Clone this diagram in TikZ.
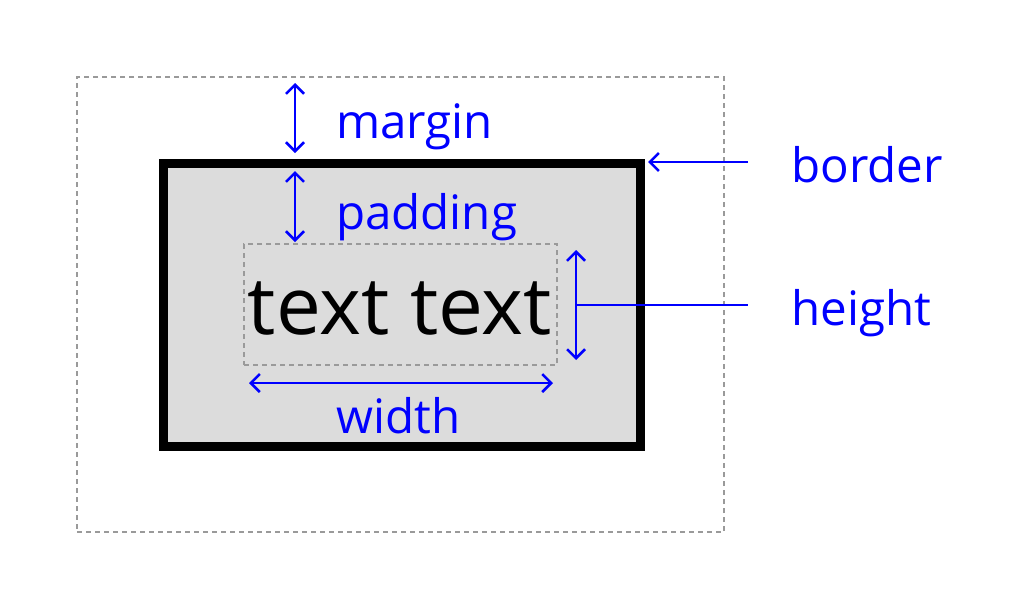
\documentclass[tikz,border=0pt]{standalone}
\usepackage{fontspec}
\setmainfont{Open Sans}
\usetikzlibrary{arrows.meta}
\definecolor{boxgray}{HTML}{DCDCDC}
\definecolor{dashgray}{HTML}{9A9A9A}
\definecolor{lblue}{HTML}{0000FF}
\tikzset{
  dashbox/.style={draw=dashgray, line width=2pt, dash pattern=on 5pt off 4pt, inner sep=0pt, outer sep=0pt, anchor=north west},
  borderbox/.style={draw=black, fill=boxgray, line width=9pt, inner sep=0pt, outer sep=0pt, anchor=north west},
  dim/.style={draw=lblue, line width=2.5pt, {Straight Barb[length=9pt,width=18pt,line width=2.5pt]}-{Straight Barb[length=9pt,width=18pt,line width=2.5pt]}},
  pointer/.style={draw=lblue, line width=2.5pt, -{Straight Barb[length=9pt,width=18pt,line width=2.5pt]}},
  lead/.style={draw=lblue, line width=2.5pt},
  lbl/.style={text=lblue, font=\fontsize{47.5}{50}\selectfont, anchor=base west, inner sep=0pt},
}
\begin{document}
\begin{tikzpicture}[x=1pt,y=-1pt]
\useasboundingbox (0,0) rectangle (1024,611);
% boxes
\node[dashbox, minimum width=647pt, minimum height=455pt] (marginbox) at (77,77) {};
\node[borderbox, minimum width=477pt, minimum height=283pt] (borderbox) at (163,163) {};
\node[dashbox, minimum width=313pt, minimum height=121pt] (contentbox) at (244,244) {};
\node[anchor=base, inner sep=0pt, font=\fontsize{80}{82}\selectfont] (txt) at (400,334) {text text};
% coordinates
\coordinate (m1) at (295,83);
\coordinate (m2) at (295,153);
\coordinate (p1) at (295,171);
\coordinate (p2) at (295,242);
\coordinate (h1) at (576,250);
\coordinate (h2) at (576,360);
\coordinate (hm) at (576,305);
\coordinate (hend) at (748,305);
\coordinate (bstart) at (748,162);
\coordinate (btip) at (648,162);
\coordinate (w1) at (249,383);
\coordinate (w2) at (553,383);
% connectors
\draw[dim] (m1) -- (m2);
\draw[dim] (p1) -- (p2);
\draw[dim] (h1) -- (h2);
\draw[lead] (hm) -- (hend);
\draw[pointer] (bstart) -- (btip);
\draw[dim] (w1) -- (w2);
% labels
\node[lbl] (lmargin) at (336,138) {margin};
\node[lbl] (lpadding) at (336,229) {padding};
\node[lbl] (lborder) at (791,182) {border};
\node[lbl] (lheight) at (791,325) {height};
\node[lbl] (lwidth) at (336,433) {width};
\end{tikzpicture}
\end{document}
